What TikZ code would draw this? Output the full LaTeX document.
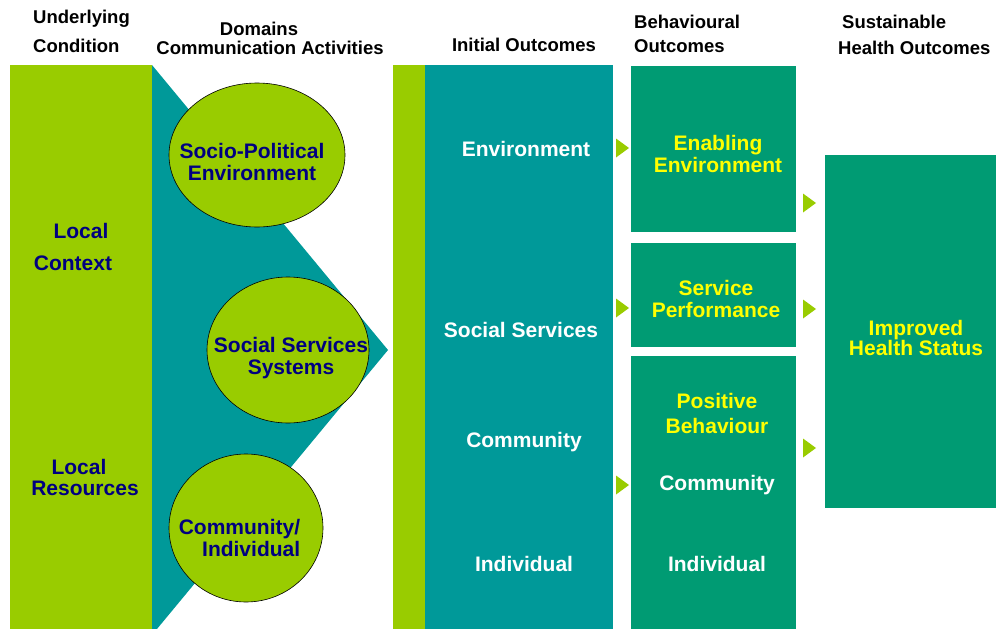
\documentclass[tikz,border=0pt]{standalone}
\usepackage{fontspec}
\setmainfont{Liberation Sans}
\usetikzlibrary{positioning,shapes.geometric}

\definecolor{lime}{RGB}{153,204,0}
\definecolor{sea}{RGB}{0,153,153}
\definecolor{boxgreen}{RGB}{0,155,115}
\definecolor{navy}{RGB}{0,0,128}
\definecolor{bright}{RGB}{255,255,0}

\tikzset{
  panel/.style={inner sep=0pt, outer sep=0pt, anchor=north west},
  domainoval/.style={ellipse, draw=black, line width=0.6pt, fill=lime, inner sep=0pt},
  head/.style={font=\fontsize{18.5}{24}\selectfont\bfseries, inner sep=0pt, align=left},
  body/.style={font=\fontsize{21}{22}\selectfont\bfseries, inner sep=0pt, align=center},
}

\begin{document}
\begin{tikzpicture}[x=1pt, y=-1pt]
\useasboundingbox (0,0) rectangle (996,629);

% column headings
\node [head, anchor=west, font=\fontsize{18.5}{29}\selectfont\bfseries] (cond-h) at (33,31.5) {Underlying\\Condition};
\node [head] (dom-h) at (259,29) {Domains};
\node [head] (act-h) at (270,48) {Communication Activities};
\node [head] (init-h) at (524,45) {Initial Outcomes};
\node [head, anchor=west] (beh-h) at (634,34) {Behavioural\\Outcomes};
\node [head, anchor=west] (sus-h) at (842,22) {Sustainable};
\node [head, anchor=west] (hlt-h) at (838,48) {Health Outcomes};

% underlying condition
\node [panel, fill=lime, minimum width=142, minimum height=564] (cond) at (10,65) {};
\fill [sea] (cond.north east) -- (388,350) -- (152,635) -- cycle;
\node [body, text=navy] (local1) at (81,231) {Local};
\node [body, text=navy] (context) at (73,263) {Context};
\node [body, text=navy] (local2) at (79,467) {Local};
\node [body, text=navy] (resources) at (85,488) {Resources};

% domains
\node [domainoval, minimum width=176, minimum height=144] (socio) at (257,155) {};
\node [domainoval, minimum width=162, minimum height=146] (services) at (288,350) {};
\node [domainoval, minimum width=154, minimum height=148] (commind) at (246,528) {};
\node [body, text=navy] (socio-t) at (252,162) {Socio-Political\\Environment};
\node [body, text=navy] (services-t) at (291,358) {Social Services\\Systems};
\node [body, text=navy, align=right] (commind-t) at (239.5,538) {Community/\\Individual};

% initial outcomes
\node [panel, fill=lime, minimum width=32, minimum height=564] (strip) at (393,65) {};
\node [panel, fill=sea, minimum width=188, minimum height=564, right=0pt of strip.north east, anchor=north west] (initial) {};
\node [body, text=white] (env) at (526,149) {Environment};
\node [body, text=white] (soc) at (521,330) {Social Services};
\node [body, text=white] (com) at (524,442) {Community};
\node [body, text=white] (ind) at (524,564) {Individual};

% behavioural outcomes
\node [panel, fill=boxgreen, minimum width=165, minimum height=166] (enabling) at (631,66) {};
\node [panel, fill=boxgreen, minimum width=165, minimum height=104] (service) at (631,243) {};
\node [panel, fill=boxgreen, minimum width=165, minimum height=273] (positive) at (631,356) {};
\node [body, text=bright] (enabling-t) at (718,154) {Enabling\\Environment};
\node [body, text=bright] (service-t) at (716,299) {Service\\Performance};
\node [body, text=bright, font=\fontsize{21}{25}\selectfont\bfseries] (positive-t) at (717,413) {Positive\\Behaviour};
\node [body, text=white] (com2) at (717,485) {Community};
\node [body, text=white] (ind2) at (717,564) {Individual};

% health outcome
\node [panel, fill=boxgreen, minimum width=171, minimum height=353] (health) at (825,155) {};
\node [body, text=bright, font=\fontsize{21}{20}\selectfont\bfseries] (health-t) at (916,338) {Improved\\Health Status};

% pointers
\foreach \px/\py in {622.5/148, 622.5/308, 622.5/485, 809.5/203, 809.5/309, 809.5/448}
  \fill [lime] (\px,\py) ++(-6.5,-9.5) -- ++(13,9.5) -- ++(-13,9.5) -- cycle;
\end{tikzpicture}
\end{document}
